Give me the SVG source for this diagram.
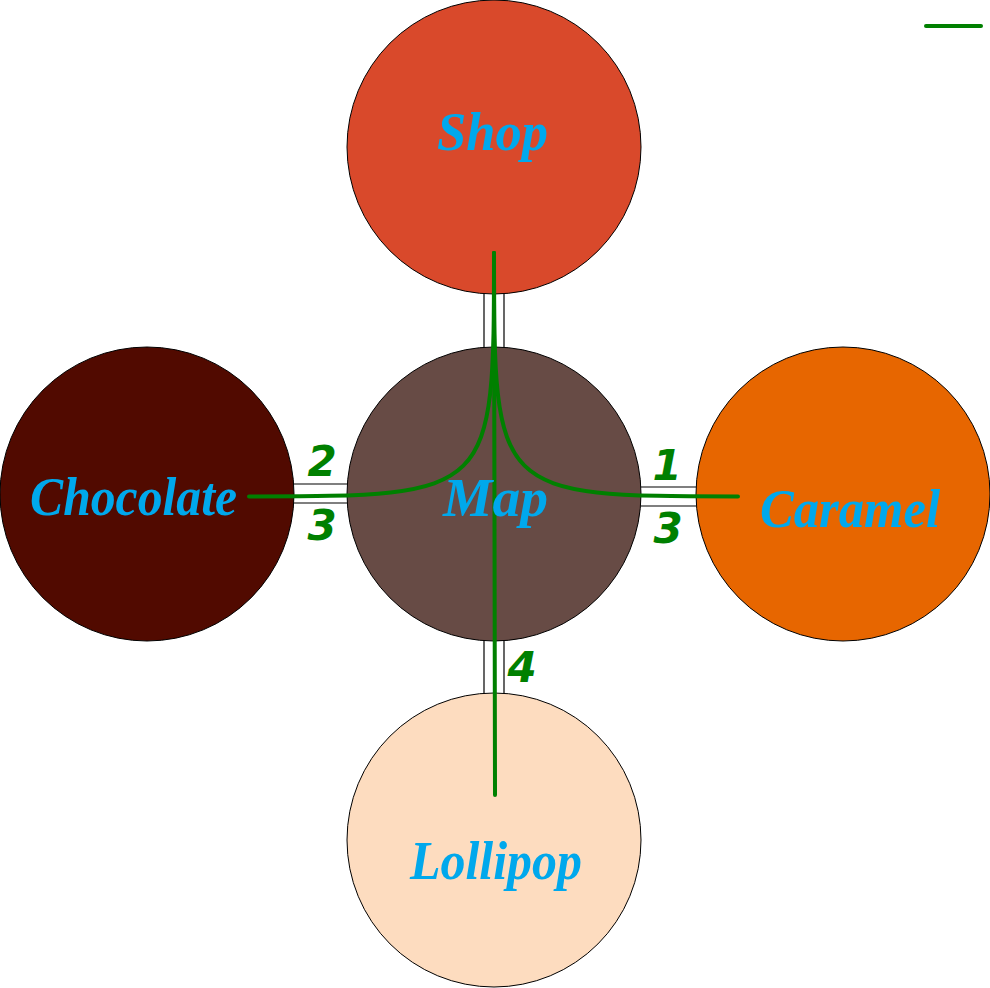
<svg xmlns="http://www.w3.org/2000/svg" width="990" height="988" viewBox="0 0 990 988">
<style>
.node{stroke:#000;stroke-width:1}
.lbl{font-family:"Liberation Serif","DejaVu Serif",serif;font-style:italic;font-weight:bold;font-size:54px;fill:#00a8ec;text-anchor:start}
.num{font-family:"DejaVu Sans","Liberation Sans",sans-serif;font-style:italic;font-weight:bold;font-size:42px;fill:#008000;text-anchor:middle}
.rail{stroke:#000;stroke-width:1.2;fill:none}
.flow{stroke:#008000;stroke-width:4;fill:none;stroke-linecap:round}
</style>
<rect width="990" height="988" fill="#fff"/>
<g id="rails">
<line class="rail" x1="484" y1="294" x2="484" y2="347"/>
<line class="rail" x1="504" y1="294" x2="504" y2="347"/>
<line class="rail" x1="484" y1="641" x2="484" y2="694"/>
<line class="rail" x1="504" y1="641" x2="504" y2="694"/>
<line class="rail" x1="294" y1="484" x2="347" y2="484" stroke="#666"/>
<line class="rail" x1="294" y1="503" x2="347" y2="503" stroke="#666"/>
<line class="rail" x1="641" y1="487" x2="696" y2="487"/>
<line class="rail" x1="641" y1="506" x2="696" y2="506"/>
</g>
<g id="shop"><circle class="node" cx="494" cy="147" r="147" fill="#d9492b"/><text class="lbl" x="437" y="150" textLength="111" lengthAdjust="spacingAndGlyphs">Shop</text></g>
<g id="map"><circle class="node" cx="494" cy="494" r="147" fill="#674b45"/></g>
<g id="chocolate"><circle class="node" cx="147" cy="494" r="147" fill="#510a00"/><text class="lbl" x="30" y="515" textLength="207" lengthAdjust="spacingAndGlyphs">Chocolate</text></g>
<g id="caramel"><circle class="node" cx="843" cy="494" r="147" fill="#e76600"/><text class="lbl" x="760" y="527" textLength="180" lengthAdjust="spacingAndGlyphs">Caramel</text></g>
<g id="lollipop"><circle class="node" cx="494" cy="840" r="147" fill="#fddcbf"/><text class="lbl" x="410" y="879" textLength="172" lengthAdjust="spacingAndGlyphs">Lollipop</text></g>
<g id="connectors">
<path class="flow" d="M494,253 C494,496 494,496 249,496.5"/>
<path class="flow" d="M494,253 C494,496 494,496 738,496.5"/>
<path class="flow" d="M494,253 L495,795"/>
<line class="flow" x1="926" y1="26" x2="981" y2="26"/>
</g>
<g id="map-label"><text class="lbl" x="443" y="516" textLength="105" lengthAdjust="spacingAndGlyphs">Map</text></g>
<g id="numbers">
<text class="num" x="322" y="476">2</text>
<text class="num" x="322" y="540">3</text>
<text class="num" x="667" y="480">1</text>
<text class="num" x="668" y="543">3</text>
<text class="num" x="522" y="682">4</text>
</g>
</svg>
